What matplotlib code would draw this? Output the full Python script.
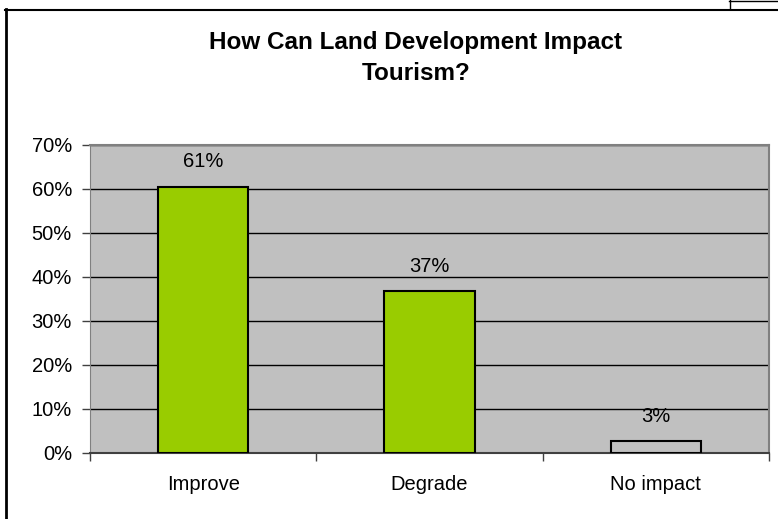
import matplotlib
matplotlib.use("Agg")
import matplotlib.pyplot as plt
from matplotlib.lines import Line2D

plt.rcParams['font.family'] = ['Liberation Sans', 'DejaVu Sans']

categories = ["Improve", "Degrade", "No impact"]
values = [60.5, 36.8, 2.7]
labels = ["61%", "37%", "3%"]
colors = ["#99CC00", "#99CC00", "#C0C0C0"]
yticks = [0, 10, 20, 30, 40, 50, 60, 70]
title_lines = ["How Can Land Development Impact", "Tourism?"]

W, H = 778, 519
fig = plt.figure(figsize=(W / 100, H / 100), dpi=100)
fig.patch.set_facecolor("white")

# outer chart frame (left and top) and small box at top right
fig.add_artist(Line2D([5.5 / W, 5.5 / W], [0, 1 - 9 / H], transform=fig.transFigure, color="black", lw=2))
fig.add_artist(Line2D([5 / W, 1], [1 - 9.5 / H, 1 - 9.5 / H], transform=fig.transFigure, color="black", lw=1.5))
fig.add_artist(Line2D([729 / W, 1], [1 - 0.5 / H, 1 - 0.5 / H], transform=fig.transFigure, color="black", lw=1))
fig.add_artist(Line2D([729.5 / W, 729.5 / W], [1 - 9 / H, 1], transform=fig.transFigure, color="black", lw=1))

left, right, top, bottom = 90, 769, 145, 453
ax = fig.add_axes([left / W, 1 - bottom / H, (right - left) / W, (bottom - top) / H])
ax.set_facecolor("#C0C0C0")

x = list(range(len(categories)))
ax.bar(x, values, width=0.4, color=colors, edgecolor="black", linewidth=1.5, zorder=3)
for xi, v, lab in zip(x, values, labels):
    ax.text(xi, v + 4.4, lab, ha="center", va="baseline", fontsize=14.5, zorder=4)

ax.set_xlim(-0.5, 2.5)
ax.set_ylim(0, 70)
ax.set_yticks(yticks)
ax.set_yticklabels([f"{t}%" for t in yticks], fontsize=14.5)
for t in yticks[1:]:
    ax.axhline(t, color="black", lw=1, zorder=1)

ax.set_xticks(x)
ax.set_xticklabels(categories, fontsize=14.5)
ax.tick_params(axis="x", length=0, pad=16)
ax.set_xticks([-0.5, 0.5, 1.5, 2.5], minor=True)
ax.tick_params(axis="x", which="minor", length=6, color="#404040", width=1)
ax.tick_params(axis="y", length=6, color="#404040", width=1, pad=7)

for side in ["top", "right"]:
    ax.spines[side].set_color("#808080")
    ax.spines[side].set_linewidth(1.5)
ax.spines["left"].set_color("#808080")
ax.spines["bottom"].set_color("#404040")
ax.spines["bottom"].set_linewidth(1.5)

for line, yc in zip(title_lines, [40, 71]):
    fig.text(416 / W, 1 - yc / H, line, ha="center", va="center_baseline",
             fontsize=17.5, fontweight="bold")

fig.savefig("out.png", dpi=100)
